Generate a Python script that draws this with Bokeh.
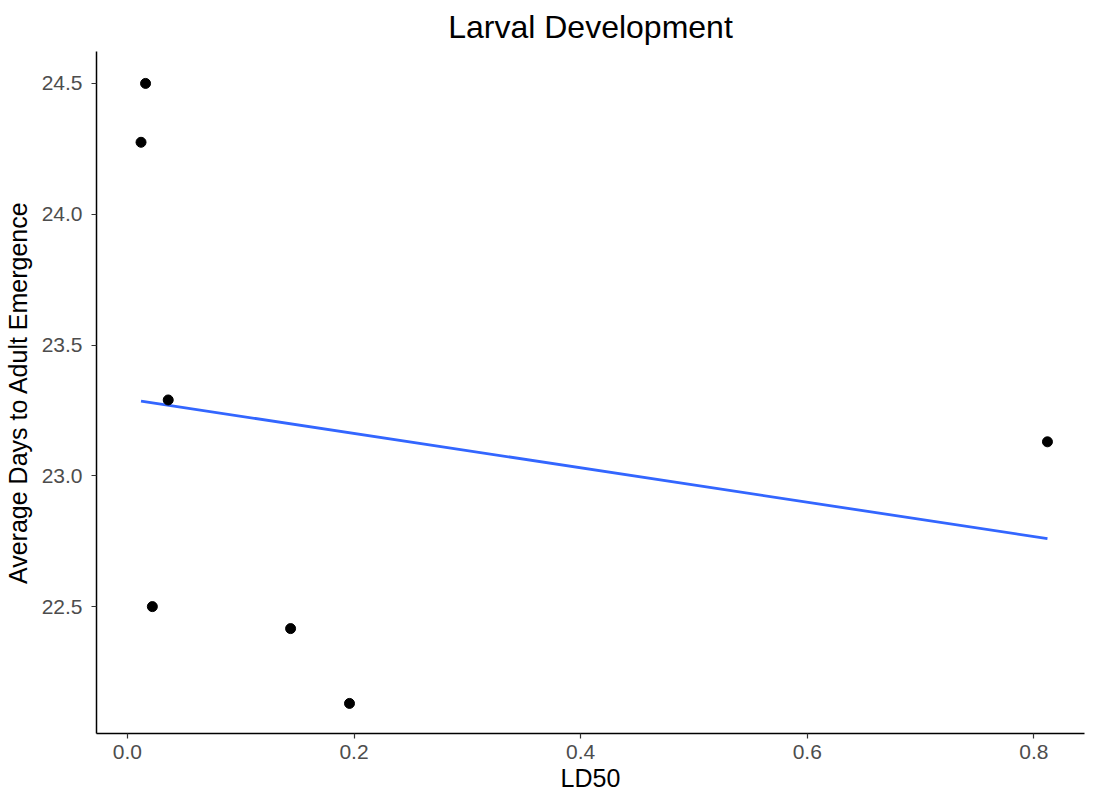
import numpy as np
from bokeh.plotting import figure
from bokeh.models import Range1d, FixedTicker, NumeralTickFormatter
from bokeh.embed import file_html
from bokeh.resources import INLINE

ld50 = [0.016, 0.012, 0.036, 0.022, 0.144, 0.196, 0.812]
days = [24.50, 24.275, 23.29, 22.50, 22.416, 22.13, 23.13]
x_ticks = [0.0, 0.2, 0.4, 0.6, 0.8]
y_ticks = [22.5, 23.0, 23.5, 24.0, 24.5]

slope, intercept = np.polyfit(ld50, days, 1)
fit_x = [min(ld50), max(ld50)]
fit_y = [intercept + slope * v for v in fit_x]

FONT = "Liberation Sans"

p = figure(width=1086, height=798, output_backend="svg", toolbar_location=None,
           x_range=Range1d(-0.0273, 0.8447), y_range=Range1d(22.015, 24.622),
           title="Larval Development")
p.min_border_left = 96
p.min_border_right = 2
p.min_border_top = 50
p.min_border_bottom = 65
p.outline_line_color = None
p.xgrid.visible = False
p.ygrid.visible = False
p.background_fill_color = "white"

p.title.align = "center"
p.title.text_font = FONT
p.title.text_font_size = "32px"
p.title.text_font_style = "normal"
p.title.text_color = "black"
p.title.standoff = 13

for ax, ticks in ((p.xaxis[0], x_ticks), (p.yaxis[0], y_ticks)):
    ax.ticker = FixedTicker(ticks=ticks)
    ax.formatter = NumeralTickFormatter(format="0.0")
    ax.axis_line_color = "black"
    ax.axis_line_width = 1.5
    ax.major_tick_line_color = "#333333"
    ax.major_tick_line_width = 1.2
    ax.major_tick_out = 5
    ax.major_tick_in = 0
    ax.minor_tick_line_color = None
    ax.major_label_text_font = FONT
    ax.major_label_text_font_size = "21px"
    ax.major_label_text_color = "#4D4D4D"
    ax.axis_label_text_font = FONT
    ax.axis_label_text_font_size = "25px"
    ax.axis_label_text_font_style = "normal"
    ax.axis_label_text_color = "black"

p.xaxis.axis_label = "LD50"
p.yaxis.axis_label = "Average Days to Adult Emergence"
p.xaxis.major_label_standoff = 6
p.yaxis.major_label_standoff = 9
p.xaxis.axis_label_standoff = 2
p.yaxis.axis_label_standoff = 7

p.line(fit_x, fit_y, line_color="#3366FF", line_width=2.8)
p.scatter(ld50, days, size=10, fill_color="black", line_color="black")

open("out.html", "w").write(file_html(p, INLINE))
